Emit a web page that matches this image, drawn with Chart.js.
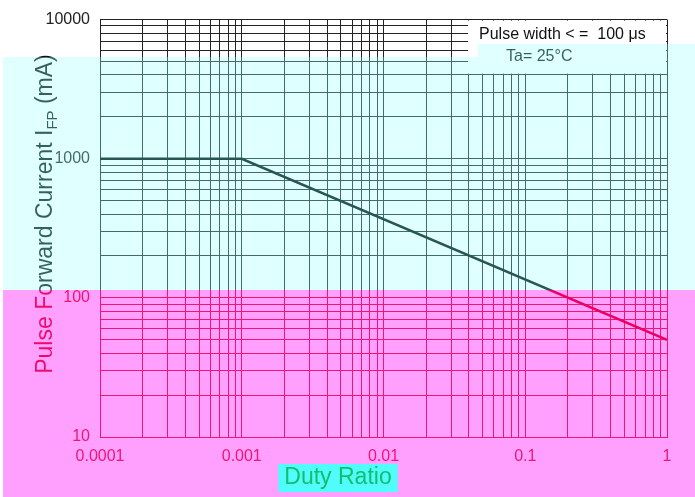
<!DOCTYPE html>
<html><head><meta charset="utf-8">
<script src="https://cdn.jsdelivr.net/npm/chart.js@4"></script>
<style>html,body{margin:0;padding:0;background:#fff;overflow:hidden}#wrap{width:695px;height:497px;position:relative}</style>
</head><body><div id="wrap"><canvas id="c"></canvas></div>
<script>
// ---- data ----
const dutyRatio    = [0.0001, 0.001, 1];
const pulseCurrent = [1000, 1000, 50];
const xTickLabels  = [0.0001, 0.001, 0.01, 0.1, 1];
const yTickLabels  = [10, 100, 1000, 10000];
const xTitle = 'Duty Ratio';
const yTitleMain = 'Pulse Forward Current I';
const yTitleSub = 'FP';
const yTitleUnit = ' (mA)';
const noteLine1 = 'Pulse width < =  100 μs';
const noteLine2 = 'Ta= 25°C';

const FONT = '"Liberation Sans", Arial, sans-serif';

function logTicks(min, max) {
  const t = [];
  const e0 = Math.round(Math.log10(min)), e1 = Math.round(Math.log10(max));
  for (let e = e0; e < e1; e++) for (let m = 1; m < 10; m++) t.push({ value: m * Math.pow(10, e) });
  t.push({ value: max });
  return t;
}
function labelFor(list, v) {
  const hit = list.find(l => Math.abs(l - v) / l < 1e-6);
  return hit === undefined ? '' : String(hit);
}

const bgPlugin = {
  id: 'bg',
  beforeDraw(chart) {
    const c = chart.ctx;
    c.save(); c.fillStyle = '#fff'; c.fillRect(0, 0, chart.width, chart.height); c.restore();
  },
  beforeDatasetsDraw(chart) {
    const c = chart.ctx, a = chart.chartArea;
    c.save();
    c.fillStyle = '#fff';
    c.fillRect(468, a.top + 1, a.right - 468 - 1, 53);
    c.fillStyle = '#111';
    c.font = '16px ' + FONT;
    c.textBaseline = 'middle';
    c.textAlign = 'left';
    c.fillText(noteLine1, 479, 35);
    c.fillText(noteLine2, 506, 57);
    c.restore();
  },
  afterDraw(chart) {
    const c = chart.ctx;
    // y axis title (rotated, with subscript)
    c.save();
    c.fillStyle = '#111';
    c.translate(52, 214);
    c.rotate(-Math.PI / 2);
    const big = '23px ' + FONT, small = '15px ' + FONT;
    c.font = big; const w1 = c.measureText(yTitleMain).width; const w3 = c.measureText(yTitleUnit).width;
    c.font = small; const w2 = c.measureText(yTitleSub).width;
    let x = -(w1 + w2 + w3) / 2;
    c.textAlign = 'left';
    c.font = big; c.fillText(yTitleMain, x, 0); x += w1;
    c.font = small; c.fillText(yTitleSub, x, 5); x += w2;
    c.font = big; c.fillText(yTitleUnit, x, 0);
    c.restore();
    // colour bands of the reference picture
    const tint = (x, y, w, h, C, D) => {
      c.save();
      c.globalCompositeOperation = 'multiply'; c.fillStyle = C; c.fillRect(x, y, w, h);
      c.globalCompositeOperation = 'screen'; c.fillStyle = D; c.fillRect(x, y, w, h);
      c.restore();
    };
    const cyanC = 'rgb(218,255,255)', cyanD = 'rgb(40,85,85)';
    tint(3, 57, 692, 233, cyanC, cyanD);
    tint(478, 44, 217, 13, cyanC, cyanD);
    tint(3, 290, 692, 207, 'rgb(255,160,255)', 'rgb(235,0,95)');
    // x axis title on its highlighted box
    c.save();
    c.font = '23px ' + FONT;
    c.textAlign = 'center';
    c.textBaseline = 'alphabetic';
    const tw = c.measureText(xTitle).width;
    c.fillStyle = 'rgb(80,252,252)';
    c.fillRect(338 - tw / 2 - 6, 464, tw + 12, 28);
    c.fillStyle = 'rgb(20,190,110)';
    c.fillText(xTitle, 338, 484);
    c.restore();
  }
};

new Chart(document.getElementById('c'), {
  type: 'scatter',
  data: {
    datasets: [{
      data: dutyRatio.map((d, i) => ({ x: d, y: pulseCurrent[i] })),
      showLine: true,
      borderColor: '#000',
      borderWidth: 2.5,
      pointRadius: 0,
      tension: 0
    }]
  },
  options: {
    responsive: true,
    maintainAspectRatio: false,
    animation: false,
    layout: { padding: { left: 0, top: 17, right: 28, bottom: 0 } },
    plugins: { legend: { display: false }, tooltip: { enabled: false } },
    scales: {
      x: {
        type: 'logarithmic',
        min: xTickLabels[0], max: xTickLabels[xTickLabels.length - 1],
        afterBuildTicks: s => { s.ticks = logTicks(s.min, s.max); },
        afterFit: s => { s.height = 60; },
        grid: { color: '#222', lineWidth: 1, drawTicks: false },
        border: { color: '#222', width: 1 },
        ticks: {
          autoSkip: false, maxRotation: 0, padding: 10,
          color: '#222', font: { family: FONT, size: 16 },
          callback: v => labelFor(xTickLabels, v)
        }
      },
      y: {
        type: 'logarithmic',
        min: yTickLabels[0], max: yTickLabels[yTickLabels.length - 1],
        afterBuildTicks: s => { s.ticks = logTicks(s.min, s.max); },
        afterFit: s => { s.width = 100; },
        grid: { color: '#222', lineWidth: 1, drawTicks: false },
        border: { color: '#222', width: 1 },
        ticks: {
          autoSkip: false, padding: 10,
          color: '#222', font: { family: FONT, size: 16 },
          callback: v => labelFor(yTickLabels, v)
        }
      }
    }
  },
  plugins: [bgPlugin]
});
</script>
</body></html>
